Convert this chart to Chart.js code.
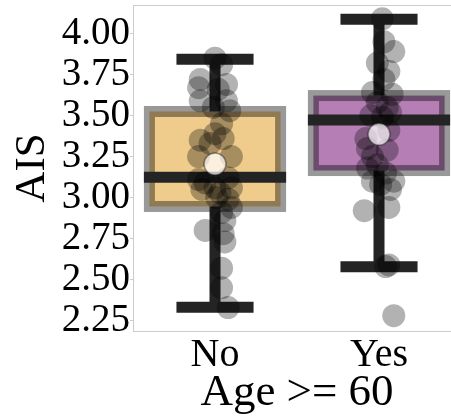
<!DOCTYPE html>
<html>
<head>
<meta charset="utf-8">
<script src="https://cdn.jsdelivr.net/npm/chart.js@4.4.1/dist/chart.umd.min.js"></script>
<style>
  html, body { margin: 0; padding: 0; background: #ffffff; overflow: hidden; }
  #wrap { width: 461px; height: 420px; position: relative; }
  #chart { display: block; width: 461px; height: 420px; }
</style>
</head>
<body>
<div id="wrap"><canvas id="chart" width="461" height="420"></canvas></div>
<script>
// Groups on the x axis
const categories = ['No', 'Yes'];

// Box-plot summary per group
const q1 = [2.946, 3.165];
const medians = [3.124, 3.473];
const q3 = [3.525, 3.622];
const whiskerLow = [2.332, 2.579];
const whiskerHigh = [3.843, 4.087];
const means = [3.205, 3.386];

// Y axis ticks
const yTicks = [2.25, 2.5, 2.75, 3.0, 3.25, 3.5, 3.75, 4.0];
const yTickLabels = ['2.25', '2.50', '2.75', '3.00', '3.25', '3.50', '3.75', '4.00'];

// Individual observations, group "No" (AIS value and horizontal jitter)
const noValues = [3.85, 3.81, 3.72, 3.67, 3.69, 3.66, 3.59, 3.59, 3.55, 3.53,
                  3.45, 3.39, 3.35, 3.33, 3.36, 3.25, 3.25, 3.11, 3.12, 3.09,
                  3.06, 3.05, 3.06, 3.03, 3.00, 2.99, 2.94, 2.91, 2.86, 2.80,
                  2.78, 2.73, 2.57, 2.45, 2.33];
const noJitter = [0.00, 0.04, -0.09, -0.10, 0.07, 0.02, -0.09, 0.07, -0.01, 0.09,
                  0.04, 0.00, -0.09, -0.03, 0.05, -0.10, 0.10, -0.10, 0.08, -0.06,
                  0.00, -0.08, 0.10, 0.03, 0.01, 0.08, 0.10, 0.04, 0.06, -0.06,
                  0.05, 0.06, 0.04, 0.04, 0.08];

// Individual observations, group "Yes"
const yesValues = [4.09, 3.95, 3.89, 3.82, 3.77, 3.72, 3.64, 3.63, 3.58, 3.55,
                   3.50, 3.52, 3.49, 3.41, 3.36, 3.30, 3.29, 3.25, 3.18, 3.20,
                   3.15, 3.10, 3.10, 3.08, 3.05, 2.92, 2.94, 2.59, 2.58, 2.28];
const yesJitter = [0.02, 0.03, 0.09, -0.01, 0.06, 0.03, -0.04, 0.08, -0.01, 0.05,
                   -0.05, 0.07, 0.02, 0.06, -0.08, -0.07, 0.05, -0.04, -0.07, -0.01,
                   0.04, -0.04, 0.09, 0.01, 0.07, -0.09, 0.06, 0.06, 0.04, 0.09];

const boxFill = ['#f0cc8c', '#b57fb5'];
const boxEdge = 'rgba(0, 0, 0, 0.4)';
const inkColor = '#242424';
const spineColor = '#cccccc';
const serif = '"Liberation Serif", "Times New Roman", Times, serif';

Chart.defaults.font.family = serif;
Chart.defaults.color = '#000000';

const points = [];
noValues.forEach((v, i) => points.push({ x: 0 + noJitter[i], y: v }));
yesValues.forEach((v, i) => points.push({ x: 1 + yesJitter[i], y: v }));

const meanPoints = means.map((m, i) => ({ x: i, y: m }));

// Boxes, whiskers, caps and medians, placed through the chart scales
const boxPlotLayer = {
  id: 'boxPlotLayer',
  beforeDatasetsDraw(chart) {
    const { ctx, scales: { x, y } } = chart;
    const halfBox = 0.4, halfCap = 0.235, lw = 11;
    ctx.save();
    categories.forEach((c, i) => {
      const left = x.getPixelForValue(i - halfBox);
      const right = x.getPixelForValue(i + halfBox);
      const top = y.getPixelForValue(q3[i]);
      const bottom = y.getPixelForValue(q1[i]);
      const cx = x.getPixelForValue(i);

      ctx.fillStyle = boxFill[i];
      ctx.fillRect(left, top, right - left, bottom - top);
      ctx.strokeStyle = boxEdge;
      ctx.lineWidth = lw;
      ctx.strokeRect(left, top, right - left, bottom - top);

      ctx.strokeStyle = inkColor;
      ctx.lineWidth = lw;
      ctx.lineCap = 'butt';
      ctx.beginPath();
      // whiskers
      const hi = y.getPixelForValue(whiskerHigh[i]);
      const lo = y.getPixelForValue(whiskerLow[i]);
      ctx.moveTo(cx, top);
      ctx.lineTo(cx, hi);
      ctx.moveTo(cx, bottom);
      ctx.lineTo(cx, lo);
      // caps
      const capL = x.getPixelForValue(i - halfCap);
      const capR = x.getPixelForValue(i + halfCap);
      ctx.moveTo(capL, hi); ctx.lineTo(capR, hi);
      ctx.moveTo(capL, lo); ctx.lineTo(capR, lo);
      // median
      const my = y.getPixelForValue(medians[i]);
      ctx.moveTo(left - lw / 2, my); ctx.lineTo(right + lw / 2, my);
      ctx.stroke();
    });
    ctx.restore();
  },
  afterDraw(chart) {
    // top spine
    const { ctx, chartArea } = chart;
    ctx.save();
    ctx.strokeStyle = spineColor;
    ctx.lineWidth = 1;
    ctx.beginPath();
    ctx.moveTo(chartArea.left, chartArea.top + 0.5);
    ctx.lineTo(chartArea.right, chartArea.top + 0.5);
    ctx.stroke();
    ctx.restore();
  }
};

new Chart(document.getElementById('chart'), {
  type: 'scatter',
  data: {
    datasets: [
      {
        label: 'Mean',
        data: meanPoints,
        order: 0,
        pointRadius: 11,
        pointHoverRadius: 11,
        backgroundColor: 'rgba(255, 255, 255, 0.7)',
        borderColor: 'rgba(0, 0, 0, 0.4)',
        borderWidth: 1.5
      },
      {
        label: 'AIS',
        data: points,
        order: 1,
        pointRadius: 11.5,
        pointHoverRadius: 11.5,
        backgroundColor: 'rgba(0, 0, 0, 0.3)',
        borderWidth: 0
      }
    ]
  },
  options: {
    responsive: false,
    maintainAspectRatio: false,
    animation: false,
    events: [],
    layout: { autoPadding: false, padding: { top: 5, right: 0, bottom: 0, left: 0 } },
    plugins: { legend: { display: false }, tooltip: { enabled: false } },
    scales: {
      x: {
        type: 'linear',
        min: -0.5,
        max: 1.5,
        afterBuildTicks(scale) { scale.ticks = categories.map((c, i) => ({ value: i })); },
        afterFit(scale) {
          scale.height = 89;
          scale.paddingLeft = 0;
          scale.paddingRight = 0;
        },
        ticks: {
          callback: (v) => categories[v],
          font: { size: 40 },
          padding: 0,
          maxRotation: 0,
          autoSkip: false
        },
        grid: { display: true, drawOnChartArea: false, drawTicks: false, color: spineColor },
        border: { display: true, color: spineColor, width: 1 },
        title: {
          display: true,
          text: 'Age >= 60',
          font: { size: 45 },
          padding: { top: 0, bottom: 0 }
        }
      },
      y: {
        min: 2.187,
        max: 4.174,
        afterBuildTicks(scale) { scale.ticks = yTicks.map(v => ({ value: v })); },
        afterFit(scale) {
          scale.width = 133;
          scale.paddingTop = 0;
          scale.paddingBottom = 0;
        },
        ticks: {
          callback: (v, i) => yTickLabels[i],
          font: { size: 39 },
          padding: 0,
          autoSkip: false
        },
        grid: { display: true, drawOnChartArea: false, drawTicks: true, tickLength: 3, color: spineColor },
        border: { display: true, color: spineColor, width: 1 },
        title: {
          display: true,
          text: 'AIS',
          font: { size: 43 },
          padding: { top: 7, bottom: 0 }
        }
      }
    }
  },
  plugins: [boxPlotLayer]
});
</script>
</body>
</html>
